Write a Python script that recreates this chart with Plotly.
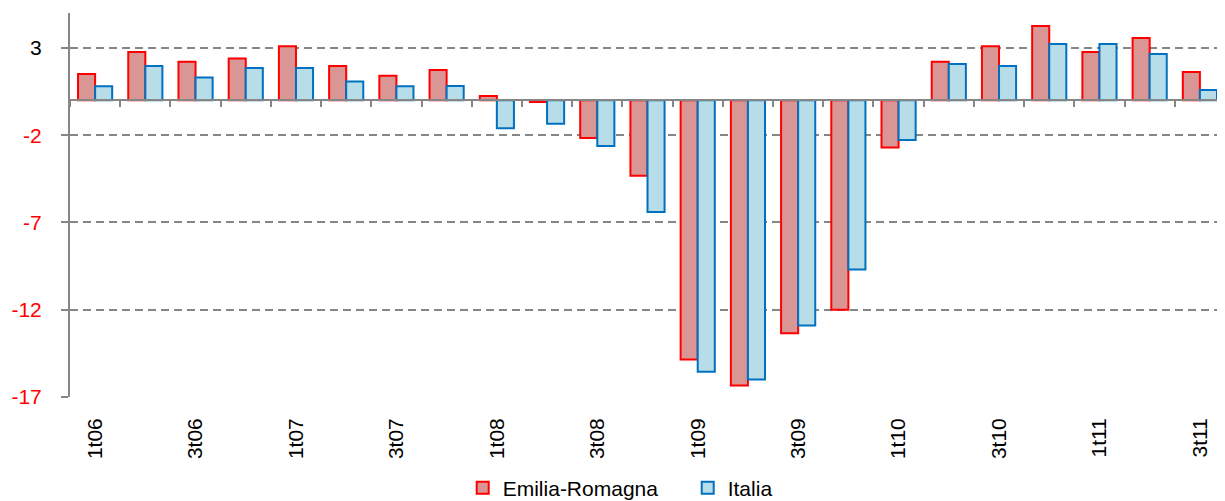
import plotly.graph_objects as go

categories = ["1t06", "2t06", "3t06", "4t06", "1t07", "2t07", "3t07", "4t07",
              "1t08", "2t08", "3t08", "4t08", "1t09", "2t09", "3t09", "4t09",
              "1t10", "2t10", "3t10", "4t10", "1t11", "2t11", "3t11"]
emilia_romagna = [1.5, 2.77, 2.2, 2.4, 3.1, 1.97, 1.4, 1.74, 0.25, -0.1, -2.16, -4.33,
                  -14.85, -16.34, -13.35, -12.0, -2.7, 2.2, 3.1, 4.26, 2.77, 3.57, 1.62]
italia = [0.8, 1.97, 1.3, 1.85, 1.85, 1.07, 0.8, 0.82, -1.6, -1.35, -2.62, -6.4,
          -15.55, -16.0, -12.9, -9.7, -2.27, 2.08, 1.97, 3.22, 3.22, 2.65, 0.59]
y_ticks = [3, -2, -7, -12, -17]
x_labels = categories[::2]

Y_MIN, Y_MAX = -17, 5
FONT = "Liberation Sans, Arial, sans-serif"
GRAY = "#868686"

fig = go.Figure()
fig.add_trace(go.Bar(name="Emilia-Romagna", x=categories, y=emilia_romagna,
                     marker=dict(color="#D99694", line=dict(color="#FF0000", width=2))))
fig.add_trace(go.Bar(name="Italia", x=categories, y=italia,
                     marker=dict(color="#B7DEE8", line=dict(color="#0070C0", width=2))))
# invisible helper trace carrying the bottom tick-label axis
fig.add_trace(go.Scatter(x=categories, y=[0] * len(categories), xaxis="x2", mode="markers",
                         marker=dict(opacity=0), showlegend=False, hoverinfo="skip"))

ticktext = [str(v) if v >= 0 else f"<span style='color:#FF0000'>{v}</span>" for v in y_ticks]

# the page body has an 8px margin, so the figure is sized to fill the rest of the window
fig.update_layout(
    width=1217, height=493,
    margin=dict(l=62, r=0, t=5, b=104, autoexpand=False),
    paper_bgcolor="white", plot_bgcolor="white",
    barmode="group", bargap=0.32, bargroupgap=0,
    font=dict(family=FONT, size=18, color="black"),
    xaxis=dict(type="category", categoryarray=categories, range=[-0.5, len(categories) - 0.5],
               anchor="free", position=(0 - Y_MIN) / (Y_MAX - Y_MIN),
               showline=True, linecolor=GRAY, linewidth=2,
               ticks="outside", tickson="boundaries", ticklen=6, tickwidth=2, tickcolor=GRAY,
               showticklabels=False, showgrid=False, zeroline=False, automargin=False),
    xaxis2=dict(type="category", categoryarray=categories, overlaying="x", anchor="y", side="bottom",
                range=[-0.5, len(categories) - 0.5], matches="x",
                tickmode="array", tickvals=x_labels, ticktext=x_labels, tickangle=-90,
                ticks="", showline=False, showgrid=False, zeroline=False, automargin=False,
                tickfont=dict(size=21, color="black"), ticklabelstandoff=16),
    yaxis=dict(range=[Y_MIN, Y_MAX], tickmode="array", tickvals=y_ticks, ticktext=ticktext,
               showgrid=True, gridcolor=GRAY, gridwidth=2, griddash="8px,5px",
               showline=True, linecolor=GRAY, linewidth=2,
               ticks="outside", ticklen=7, tickwidth=2, tickcolor=GRAY,
               zeroline=False, tickfont=dict(size=21), ticklabelstandoff=15, automargin=False),
    legend=dict(orientation="h", x=0.340, xanchor="left", y=-0.237, yanchor="middle",
                font=dict(size=21), itemwidth=30, entrywidth=180, traceorder="normal"),
    showlegend=True,
)

fig.write_html("out.html")
